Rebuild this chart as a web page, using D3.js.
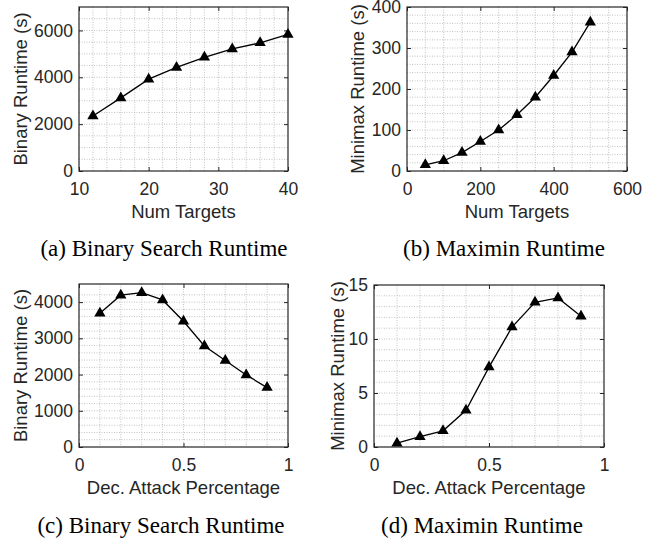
<!DOCTYPE html>
<meta charset="utf-8">
<style>
body { margin: 0; background: #fff; }
.grid line { stroke: #b4b4b4; stroke-width: 0.8; stroke-dasharray: 1,1.5; }
</style>
<svg width="657" height="544"></svg>
<script src="https://cdn.jsdelivr.net/npm/d3@7"></script>
<script>

// (a) binary search runtime vs num targets
var aX = [12, 16, 20, 24, 28, 32, 36, 40];
var aY = [2350, 3120, 3920, 4420, 4850, 5210, 5470, 5830];
// (b) maximin runtime vs num targets
var bX = [50, 100, 150, 200, 250, 300, 350, 400, 450, 500];
var bY = [15, 25, 45, 72, 100, 137, 180, 233, 290, 363];
// (c) binary runtime vs dec. attack percentage
var cX = [0.1, 0.2, 0.3, 0.4, 0.5, 0.6, 0.7, 0.8, 0.9];
var cY = [3690, 4190, 4260, 4060, 3470, 2790, 2390, 1990, 1640];
// (d) minimax runtime vs dec. attack percentage
var dX = [0.1, 0.2, 0.3, 0.4, 0.5, 0.6, 0.7, 0.8, 0.9];
var dY = [0.35, 0.95, 1.5, 3.4, 7.4, 11.1, 13.4, 13.8, 12.1];

var sans = '"Liberation Sans", Arial, sans-serif';
var serif = '"Liberation Serif", "Times New Roman", serif';

var svg = d3.select("svg");

var panels = [
  {xs: aX, ys: aY, xd: [10, 40], yd: [0, 7000], xt: [10, 20, 30, 40], yt: [0, 2000, 4000, 6000],
   xm: 2, ym: 500, box: [79, 288, 7, 171], xl: "Num Targets", yl: "Binary Runtime (s)", ylx: 27,
   cap: "(a) Binary Search Runtime", capx: 164, capy: 256},
  {xs: bX, ys: bY, xd: [0, 600], yd: [0, 400], xt: [0, 200, 400, 600], yt: [0, 100, 200, 300, 400],
   xm: 50, ym: 20, box: [407, 627, 7, 171], xl: "Num Targets", yl: "Minimax Runtime (s)", ylx: 364,
   cap: "(b) Maximin Runtime", capx: 504, capy: 256},
  {xs: cX, ys: cY, xd: [0, 1], yd: [0, 4500], xt: [0, 0.5, 1], yt: [0, 1000, 2000, 3000, 4000],
   xm: 0.1, ym: 200, box: [79, 288, 284, 447], xl: "Dec. Attack Percentage", yl: "Binary Runtime (s)", ylx: 27,
   cap: "(c) Binary Search Runtime", capx: 161, capy: 533},
  {xs: dX, ys: dY, xd: [0, 1], yd: [0, 15], xt: [0, 0.5, 1], yt: [0, 5, 10, 15],
   xm: 0.1, ym: 1, box: [374, 604, 285, 447], xl: "Dec. Attack Percentage", yl: "Minimax Runtime (s)", ylx: 344,
   cap: "(d) Maximin Runtime", capx: 482, capy: 533}
];

panels.forEach(function(p) {
  var x = d3.scaleLinear().domain(p.xd).range([p.box[0], p.box[1]]);
  var y = d3.scaleLinear().domain(p.yd).range([p.box[3], p.box[2]]);
  var g = svg.append("g");

  // dotted grid, every minor step
  var xg = d3.range(p.xd[0] + p.xm, p.xd[1] - p.xm / 2, p.xm);
  var yg = d3.range(p.yd[0] + p.ym, p.yd[1] - p.ym / 2, p.ym);
  var grid = g.append("g").attr("class", "grid");
  grid.selectAll(".gx").data(xg).enter().append("line")
    .attr("x1", d => x(d)).attr("x2", d => x(d))
    .attr("y1", p.box[2]).attr("y2", p.box[3]);
  grid.selectAll(".gy").data(yg).enter().append("line")
    .attr("y1", d => y(d)).attr("y2", d => y(d))
    .attr("x1", p.box[0]).attr("x2", p.box[1]);

  // axes with inward ticks
  var fmt = d3.format("");
  g.append("g").attr("transform", "translate(0," + p.box[3] + ")")
    .call(d3.axisBottom(x).tickValues(p.xt).tickSize(-4).tickPadding(12).tickFormat(fmt))
    .call(s => s.select(".domain").remove());
  g.append("g").attr("transform", "translate(" + p.box[0] + ",0)")
    .call(d3.axisLeft(y).tickValues(p.yt).tickSize(-4).tickPadding(6).tickFormat(fmt))
    .call(s => s.select(".domain").remove());
  g.append("g").attr("transform", "translate(0," + p.box[2] + ")")
    .call(d3.axisTop(x).tickValues(p.xt).tickSize(-4).tickFormat(""))
    .call(s => s.select(".domain").remove());
  g.append("g").attr("transform", "translate(" + p.box[1] + ",0)")
    .call(d3.axisRight(y).tickValues(p.yt).tickSize(-4).tickFormat(""))
    .call(s => s.select(".domain").remove());
  g.selectAll(".tick line").attr("stroke", "#262626");
  g.selectAll(".tick text")
    .style("font-family", sans).style("font-size", "17.5px").attr("fill", "#262626");

  g.append("rect")
    .attr("x", p.box[0]).attr("y", p.box[2])
    .attr("width", p.box[1] - p.box[0]).attr("height", p.box[3] - p.box[2])
    .attr("fill", "none").attr("stroke", "#262626").attr("stroke-width", 1.2);

  var pts = p.xs.map((v, i) => [v, p.ys[i]]);
  g.append("path").datum(pts)
    .attr("fill", "none").attr("stroke", "#000").attr("stroke-width", 1.3)
    .attr("d", d3.line().x(d => x(d[0])).y(d => y(d[1])));
  g.selectAll(".mk").data(pts).enter().append("path")
    .attr("d", d3.symbol(d3.symbolTriangle, 55))
    .attr("transform", d => "translate(" + x(d[0]) + "," + y(d[1]) + ")")
    .attr("fill", "#000");

  g.append("text")
    .style("font-family", sans).style("font-size", "18.5px").attr("fill", "#262626")
    .attr("x", (p.box[0] + p.box[1]) / 2).attr("y", p.box[3] + 47)
    .attr("text-anchor", "middle").text(p.xl);
  g.append("text")
    .style("font-family", sans).style("font-size", "18.5px").attr("fill", "#262626")
    .attr("transform", "translate(" + p.ylx + "," + (p.box[2] + p.box[3]) / 2 + ") rotate(-90)")
    .attr("text-anchor", "middle").text(p.yl);

  svg.append("text")
    .style("font-family", serif).style("font-size", "23px").attr("fill", "#000")
    .attr("x", p.capx).attr("y", p.capy)
    .attr("text-anchor", "middle").text(p.cap);
});

</script>
